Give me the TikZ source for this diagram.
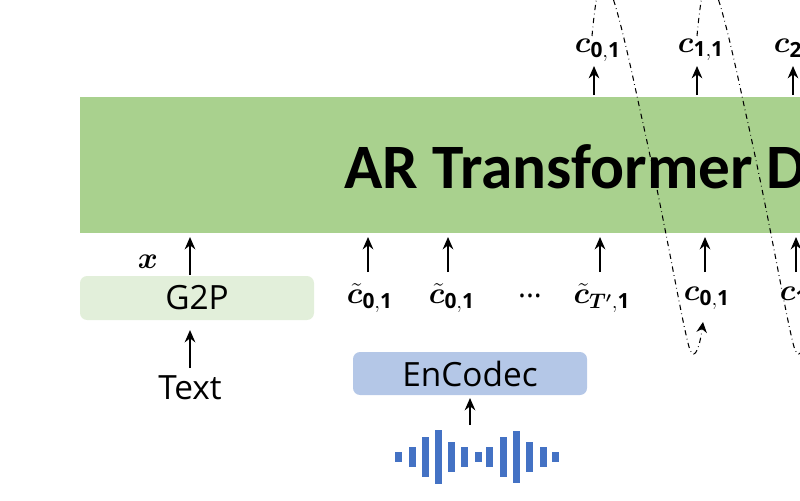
\documentclass[tikz,border=0pt]{standalone}
\usetikzlibrary{arrows.meta}
\usepackage{fontspec}
\usepackage{amsmath,bm}
\setmainfont{Open Sans}
\newfontfamily\titlefont{Carlito}
\definecolor{dec}{HTML}{A9D18E}
\definecolor{gtp}{HTML}{E2EFDA}
\definecolor{enc}{HTML}{B4C7E7}
\definecolor{wave}{HTML}{4472C4}
\begin{document}
\begin{tikzpicture}[x=0.02cm,y=-0.02cm,
  arr/.style={-{Stealth[length=7pt,width=6pt]},line width=1.6pt},
  loop/.style={dash dot,line width=0.6pt},
  lab/.style={font=\fontsize{17}{19}\selectfont}]
\useasboundingbox (0,0) rectangle (800,500);
\clip (0,0) rectangle (800,500);
\fill[dec] (80,97) rectangle (820,233);
\node[anchor=west,font=\fontsize{36}{40}\selectfont\titlefont\bfseries] (dec) at (338,167) {AR Transformer Decoder};
\fill[gtp,rounded corners=4pt] (80,276) rectangle (314,320);
\node[font=\fontsize{19}{22}\selectfont] (g2pt) at (197,298) {G2P};
\fill[enc,rounded corners=4pt] (353,352) rectangle (587,395);
\node[font=\fontsize{19}{22}\selectfont] (enct) at (470,374) {EnCodec};
\node[font=\fontsize{19}{22}\selectfont] (text) at (190,388) {Text};
\node[lab] (x) at (148,262) {$\bm{x}$};
\coordinate (g2pb) at (190,330); \coordinate (g2pu) at (190,275);
\coordinate (txt) at (190,368); \coordinate (dx) at (190,237);
\draw[arr] (txt) -- (g2pb);
\draw[arr] (g2pu) -- (dx);
% inputs
\foreach \n/\xx/\t in {a/370/{\tilde{\bm{c}}_{\mathbf{0,1}}},b/452/{\tilde{\bm{c}}_{\mathbf{0,1}}},c/602/{\tilde{\bm{c}}_{\bm{T'},\mathbf{1}}},d/707/{\bm{c}_{\mathbf{0,1}}},e/803/{\bm{c}_{\mathbf{1,1}}}}{
  \node[lab] (in\n) at (\xx,298) {$\t$};
}
\foreach \n/\xx in {a/368,b/448,c/600,d/705,e/796}{
  \coordinate (inb\n) at (\xx,272); \coordinate (int\n) at (\xx,237);
  \draw[arr] (inb\n) -- (int\n);
}
\node[lab] (dots) at (530,296) {...};
% outputs
\foreach \n/\xx/\t in {a/594/{\mathbf{0,1}},b/697/{\mathbf{1,1}},c/793/{\mathbf{2,1}}}{
  \node[lab] (out\n) at (\xx+4,50) {$\bm{c}_{\t}$};
  \coordinate (ob\n) at (\xx,95); \coordinate (ot\n) at (\xx,66);
  \draw[arr] (ob\n) -- (ot\n);
}
% loops
\foreach \dx in {0,105}{
  \draw[loop,-{Stealth[length=6pt,width=6pt]}] (592+\dx,36) .. controls (600+\dx,-50) and (608+\dx,-40) .. (640+\dx,110)
     .. controls (665+\dx,220) and (683+\dx,330) .. (690+\dx,350) .. controls (695+\dx,362) and (700+\dx,345) .. (703+\dx,322);
}
% encodec arrow
\coordinate (wtop) at (470,425); \coordinate (encb) at (470,398);
\draw[arr] (wtop) -- (encb);
% waveform
\foreach \xx/\hh in {398/5,412/10,425/20,438/27,451/15,464/10,478/5,489/10,503/20,516/26,529/15,543/10,555/5}{
  \fill[wave] (\xx-3.5,457-\hh) rectangle (\xx+3.5,457+\hh);
}
\end{tikzpicture}
\end{document}
